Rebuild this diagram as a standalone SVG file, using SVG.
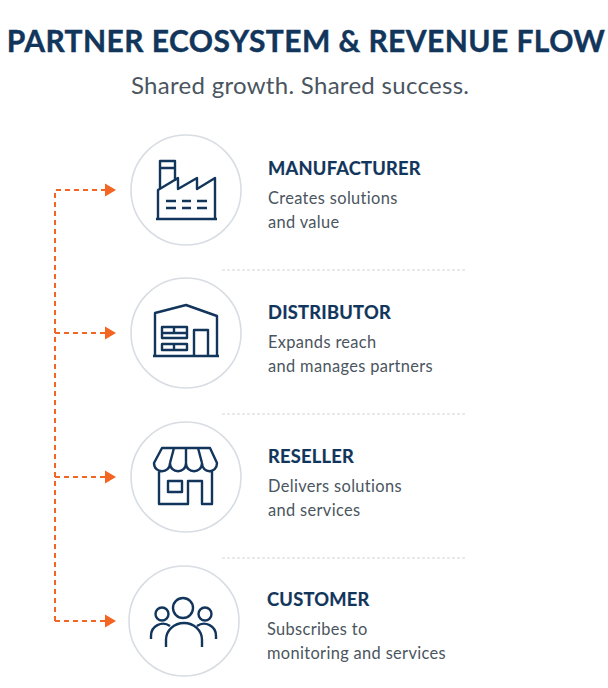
<svg xmlns="http://www.w3.org/2000/svg" width="608" height="688" viewBox="0 0 608 688">
<style>
text{font-family:"Lato","Open Sans",sans-serif}
.t{font-weight:700;font-size:18.3px;fill:#12355b;letter-spacing:.25px;stroke:#12355b;stroke-width:.2}
.d{font-size:16.4px;fill:#4a5560;letter-spacing:.35px}
.c{fill:#fff;stroke:#d8dde3;stroke-width:1.6}
.i{fill:none;stroke:#12355b;stroke-width:2.4;stroke-linejoin:round}
.s{stroke:#d4d4d4;stroke-width:1;stroke-dasharray:3 2;fill:none}
.o{fill:none;stroke:#f26522;stroke-width:2;stroke-dasharray:5 4}
</style>
<defs><marker id="a" markerWidth="12" markerHeight="14" refX="0" refY="7" orient="auto" markerUnits="userSpaceOnUse"><path d="M0 .5L11 7L0 13.5z" fill="#f26522"/></marker></defs>
<rect width="608" height="688" fill="#fff"/>
<text x="306" y="52" text-anchor="middle" font-size="30" font-weight="700" fill="#12355b" stroke="#12355b" stroke-width=".4" letter-spacing=".44">PARTNER ECOSYSTEM &amp; REVENUE FLOW</text>
<text x="300" y="94" text-anchor="middle" font-size="24" fill="#4a5560" textLength="338">Shared growth. Shared success.</text>
<g id="connectors">
<path class="o" d="M55 621V190H105" marker-end="url(#a)"/>
<path class="o" d="M55 333H105" marker-end="url(#a)"/>
<path class="o" d="M55 477H105" marker-end="url(#a)"/>
<path class="o" d="M55 621H105" marker-end="url(#a)"/>
</g>
<path class="s" d="M222 270H465M222 414H465M222 558H465"/>
<g id="manufacturer"><circle class="c" cx="186" cy="190" r="55"/>
<path class="i" d="M156 219H217M158 219V190L178 178V189L197 178V189L215 178V219M160 189V161H175V181M160 168H175M166 201H176M182 201H191M197 201H207M166 208H176M182 208H191M197 208H207"/>
<text class="t" x="268" y="175">MANUFACTURER</text><text class="d" x="268" y="204">Creates solutions</text><text class="d" x="268" y="228">and value</text></g>
<g id="distributor"><circle class="c" cx="186" cy="333" r="55"/>
<path class="i" d="M153 356H219M155 356V313L186 305L217 316V356M162 327H187V338H162ZM162 333H187M174 327V333M162 344H187V350H162ZM174 344V350M194 356V330H208V356"/>
<text class="t" x="268" y="319">DISTRIBUTOR</text><text class="d" x="268" y="348">Expands reach</text><text class="d" x="268" y="372">and manages partners</text></g>
<g id="reseller"><circle class="c" cx="186" cy="477" r="55"/>
<path class="i" d="M162 448H210L217 463C217 474 202 474 202 463C202 474 186 474 186 463C186 474 170 474 170 463C170 474 154 474 154 463ZM170 463L174 448M186 463V448M202 463L198 448M159 470V504H188V481H202V504H212V470M168 481H182V492H168Z"/>
<text class="t" x="268" y="463">RESELLER</text><text class="d" x="268" y="492">Delivers solutions</text><text class="d" x="268" y="516">and services</text></g>
<g id="customer"><circle class="c" cx="184" cy="621" r="55"/>
<path class="i" d="M166 647V640A18 17 0 0 1 202 640V647M151 639V636A12 12 0 0 1 170 626M216 639V636A12 12 0 0 0 197 626"/>
<circle class="i" cx="183" cy="608" r="10"/><circle class="i" cx="162" cy="614" r="6.5"/><circle class="i" cx="205" cy="614" r="6.5"/>
<text class="t" x="267" y="606">CUSTOMER</text><text class="d" x="267" y="635">Subscribes to</text><text class="d" x="267" y="659">monitoring and services</text></g>
</svg>
